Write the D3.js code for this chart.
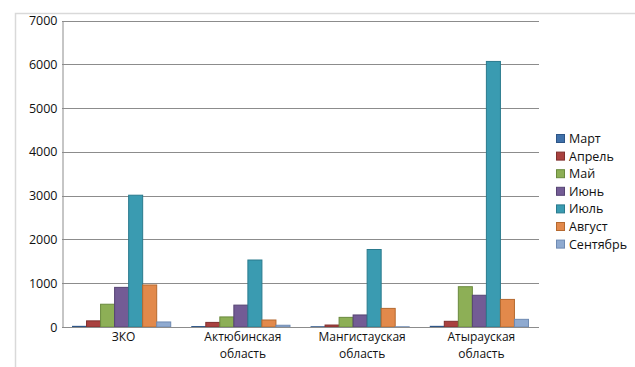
<!DOCTYPE html>
<html>
<head>
<meta charset="utf-8">
<script src="https://cdn.jsdelivr.net/npm/d3@7"></script>
<style>
  html, body { margin: 0; padding: 0; background: #fff; }
  svg { display: block; font-family: "Open Sans", "DejaVu Sans", sans-serif; }
</style>
</head>
<body>
<svg id="chart" width="635" height="367"></svg>
<script>
// Regions (categories) and months (series)
const regions = [["ЗКО"], ["Актюбинская", "область"], ["Мангистауская", "область"], ["Атырауская", "область"]];
const months = ["Март", "Апрель", "Май", "Июнь", "Июль", "Август", "Сентябрь"];

// Values per month, one entry per region
const mart     = [15, 10, 5, 15];
const aprel    = [140, 105, 45, 130];
const mai      = [520, 230, 220, 920];
const iyun     = [905, 500, 275, 725];
const iyul     = [3010, 1530, 1770, 6065];
const avgust   = [960, 160, 425, 630];
const sentyabr = [115, 40, 5, 175];
const seriesValues = [mart, aprel, mai, iyun, iyul, avgust, sentyabr];

const yTicks = [0, 1000, 2000, 3000, 4000, 5000, 6000, 7000];

const fills   = ["#3F70A9", "#A9413F", "#8DAF56", "#735C95", "#3A9BB1", "#E2894B", "#8FAAD0"];
const strokes = ["#2D5587", "#7F2F2D", "#6A8A3E", "#564473", "#2A7A8D", "#B5692F", "#6E8AB2"];

const svg = d3.select("#chart");

// outer chart frame
svg.append("path")
  .attr("d", "M15.5,380 V13.5 H640")
  .attr("fill", "none").attr("stroke", "#d9d9d9").attr("stroke-width", 1.5);

const plot = { left: 62, right: 539, top: 20.5, bottom: 327 };

const x0 = d3.scaleBand().domain(d3.range(regions.length))
  .range([plot.left, plot.right]).paddingInner(0).paddingOuter(0);
const x1 = d3.scaleBand().domain(d3.range(months.length))
  .range([0, x0.bandwidth()]).paddingInner(0).paddingOuter(0.75);
const y = d3.scaleLinear().domain([0, 7000]).range([plot.bottom, plot.top]);

// gridlines
svg.append("g").selectAll("line").data(yTicks.filter(t => t > 0)).join("line")
  .attr("x1", plot.left).attr("x2", plot.right)
  .attr("y1", d => Math.round(y(d)) + 0.5).attr("y2", d => Math.round(y(d)) + 0.5)
  .attr("stroke", "#8c8c8c").attr("stroke-width", 1);

// y axis
const yAxis = d3.axisLeft(y).tickValues(yTicks).tickFormat(d3.format("d")).tickSize(0).tickPadding(5);
const gy = svg.append("g").attr("transform", `translate(${plot.left + 0.5},0)`).call(yAxis);
gy.select(".domain").attr("stroke", "#8c8c8c");
gy.selectAll("text").attr("font-size", 12.5).attr("fill", "#111")
  .attr("font-family", "'Open Sans', sans-serif");

// bars
const groups = svg.append("g").selectAll("g").data(regions).join("g")
  .attr("transform", (d, i) => `translate(${x0(i)},0)`);
groups.selectAll("rect")
  .data((d, i) => seriesValues.map((vals, s) => ({ s, v: vals[i] })))
  .join("rect")
  .attr("x", d => x1(d.s))
  .attr("width", x1.bandwidth())
  .attr("y", d => y(d.v))
  .attr("height", d => y(0) - y(d.v))
  .attr("fill", d => fills[d.s])
  .attr("stroke", d => strokes[d.s])
  .attr("stroke-width", 1);

// x axis
svg.append("line")
  .attr("x1", plot.left).attr("x2", plot.right)
  .attr("y1", plot.bottom + 0.5).attr("y2", plot.bottom + 0.5)
  .attr("stroke", "#8c8c8c");

// category labels, one text element per line
const labelLines = [];
regions.forEach((lines, i) => lines.forEach((t, k) => labelLines.push({ i, k, t })));
svg.append("g").selectAll("text").data(labelLines).join("text")
  .attr("x", d => x0(d.i) + x0.bandwidth() / 2 + 2)
  .attr("y", d => 341 + d.k * 16.5)
  .attr("text-anchor", "middle")
  .attr("font-size", 12).attr("fill", "#111")
  .text(d => d.t);

// legend
const legend = svg.append("g").attr("transform", "translate(556,134)");
const item = legend.selectAll("g").data(months).join("g")
  .attr("transform", (d, i) => `translate(0,${i * 17.6})`);
item.append("rect")
  .attr("x", 0.5).attr("y", 0.5).attr("width", 8).attr("height", 8)
  .attr("fill", (d, i) => fills[i]).attr("stroke", (d, i) => strokes[i]);
item.append("text")
  .attr("x", 13).attr("y", 9)
  .attr("font-size", 12.5).attr("fill", "#111")
  .text(d => d);
</script>
</body>
</html>
